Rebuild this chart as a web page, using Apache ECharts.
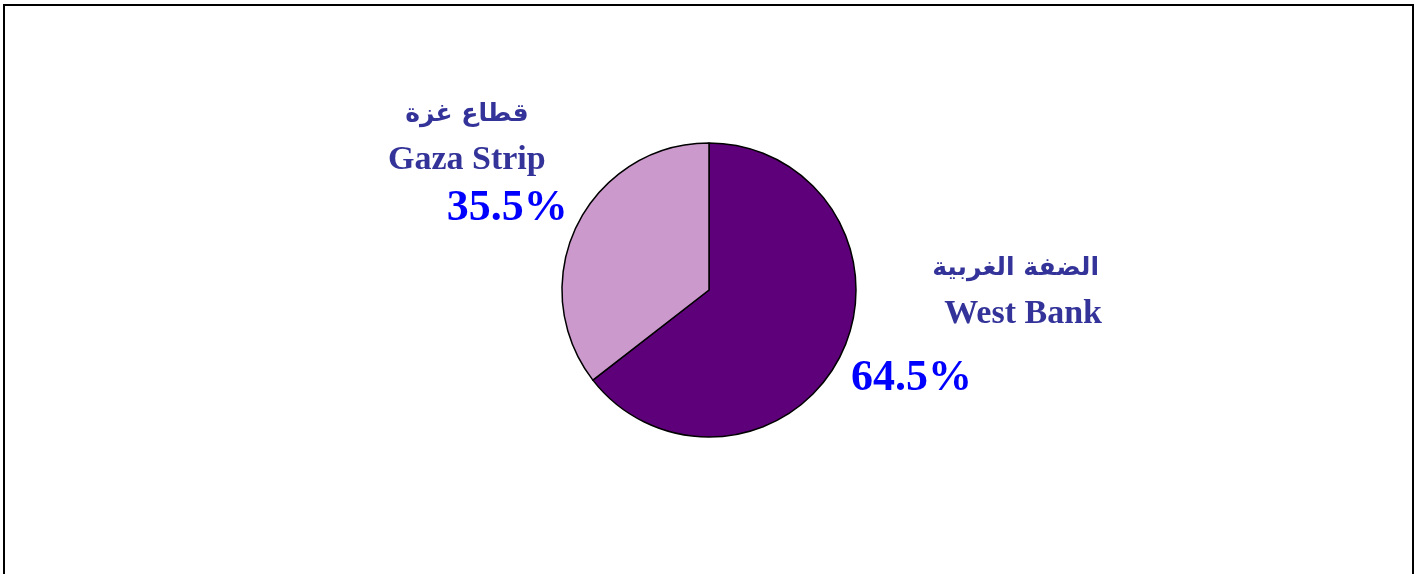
<!DOCTYPE html>
<html>
<head>
<meta charset="utf-8">
<script src="https://cdn.jsdelivr.net/npm/echarts@6/dist/echarts.min.js"></script>
<style>
    html, body { margin: 0; padding: 0; background: #ffffff; }
    #chart { width: 1421px; height: 574px; }
</style>
</head>
<body>
<div id="chart"></div>
<script>
// 数据
const regionsAr = ['الضفة الغربية', 'قطاع غزة'];
const regionsEn = ['West Bank', 'Gaza Strip'];
const shares = [64.5, 35.5];
const sliceColors = ['#5e0079', '#cc99cc'];

// 标签位置 (左上角)
const labelSpots = [
    { x: 851, y: 245 },
    { x: 388, y: 91 }
];

const serif = '"Times New Roman", "Liberation Serif", serif';
const arabicFont = '"DejaVu Sans", "Noto Sans", sans-serif';

function richFor(index) {
    if (index === 0) {
        return {
            ar: { fontFamily: arabicFont, fontSize: 25, fontWeight: 'bold', color: '#333399', lineHeight: 46, align: 'right', padding: [0, 3, 0, 0] },
            en: { fontFamily: serif, fontSize: 34, fontWeight: 'bold', color: '#333399', lineHeight: 46, align: 'right' },
            pct: { fontFamily: serif, fontSize: 44, fontWeight: 'bold', color: '#0000ff', lineHeight: 84, align: 'left', padding: [0, 130, 0, 0] }
        };
    }
    return {
        ar: { fontFamily: arabicFont, fontSize: 25, fontWeight: 'bold', color: '#333399', lineHeight: 46, align: 'center', padding: [0, 22, 0, 0] },
        en: { fontFamily: serif, fontSize: 34, fontWeight: 'bold', color: '#333399', lineHeight: 46, align: 'center', padding: [0, 22, 0, 0] },
        pct: { fontFamily: serif, fontSize: 44, fontWeight: 'bold', color: '#0000ff', lineHeight: 52, align: 'right' }
    };
}

const chart = echarts.init(document.getElementById('chart'));

chart.setOption({
    backgroundColor: '#ffffff',
    animation: false,
    graphic: [{
        type: 'rect',
        shape: { x: 4, y: 5, width: 1409, height: 600 },
        style: { fill: 'none', stroke: '#000000', lineWidth: 2 },
        silent: true
    }],
    series: [{
        type: 'pie',
        center: [709, 290],
        radius: 147,
        startAngle: 90,
        clockwise: true,
        silent: true,
        itemStyle: { borderColor: '#000000', borderWidth: 1.5 },
        labelLine: { show: false },
        label: {
            show: true,
            position: 'outside',
            formatter: p => `{ar|${regionsAr[p.dataIndex]}}\n{en|${regionsEn[p.dataIndex]}}\n{pct|${p.value.toFixed(1)}%}`
        },
        labelLayout: p => ({
            x: labelSpots[p.dataIndex].x,
            y: labelSpots[p.dataIndex].y,
            align: 'left',
            verticalAlign: 'top'
        }),
        data: shares.map((v, i) => ({
            value: v,
            name: regionsEn[i],
            itemStyle: { color: sliceColors[i] },
            label: { rich: richFor(i) }
        }))
    }]
});
</script>
</body>
</html>
